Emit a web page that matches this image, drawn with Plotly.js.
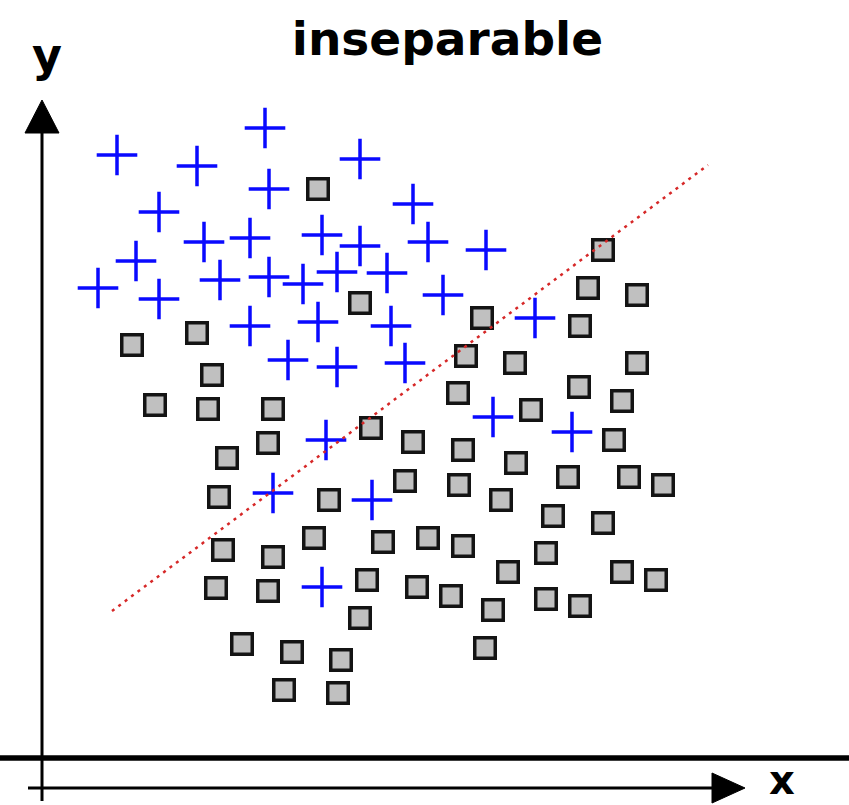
<!DOCTYPE html>
<html>
<head>
<meta charset="utf-8">
<script src="https://cdn.plot.ly/plotly-3.0.1.min.js"></script>
<style>
  html, body { margin: 0; padding: 0; background: #ffffff; }
  #chart { width: 849px; height: 805px; }
</style>
</head>
<body>
<div id="chart"></div>
<script>
// Class "+" samples (blue crosses)
const plusX = [75, 155, 223, 318, 227, 117, 371, 162, 208, 280, 318, 386, 444, 94, 56, 117, 178, 227, 261, 295, 345, 401, 208, 276, 349, 493, 246, 295, 363, 451, 530, 284, 231, 330, 280];
const plusY = [633, 622, 660, 629, 599, 576, 584, 546, 550, 553, 542, 546, 538, 527, 500, 489, 508, 511, 504, 516, 515, 493, 462, 466, 462, 470, 428, 421, 425, 371, 356, 348, 295, 288, 201];

// Class "square" samples (grey boxes)
const squareX = [276, 561, 546, 595, 318, 90, 155, 440, 538, 170, 424, 473, 595, 537, 416, 580, 489, 113, 166, 231,
                 329, 226, 371, 421, 572, 185, 474, 363, 417, 526, 587, 621, 177, 287, 459, 511, 561, 272, 341, 386,
                 421, 504, 181, 231, 466, 580, 614, 174, 226, 325, 375, 409, 451, 504, 538, 318, 200, 250, 299, 443,
                 242, 296];
const squareY = [599, 538, 500, 493, 485, 443, 455, 470, 462, 413, 432, 425, 425, 401, 395, 387, 378, 383, 379, 379,
                 360, 345, 346, 338, 348, 330, 325, 307, 303, 311, 311, 303, 291, 288, 288, 272, 265, 250, 246, 250,
                 242, 235, 238, 231, 216, 216, 208, 200, 197, 208, 201, 192, 178, 189, 182, 170, 144, 136, 128, 140,
                 98, 95];

// Linear decision boundary (endpoints)
const boundaryX = [70, 666];
const boundaryY = [177, 623];

// Axis layout (origin of the drawn x/y arrows is at 0,0)
const xRange = [-42, 807];
const yRange = [-17, 788];

const traces = [
  {
    type: 'scatter', mode: 'markers', name: 'square',
    x: squareX, y: squareY,
    marker: { symbol: 'square', size: 20.5, color: '#c0c0c0',
              line: { color: '#141414', width: 3.5 } },
    hoverinfo: 'x+y'
  },
  {
    type: 'scatter', mode: 'markers', name: 'plus',
    x: plusX, y: plusY,
    marker: { symbol: 'cross-thin', size: 29, color: '#0a0aff',
              line: { color: '#0a0aff', width: 3.5 } },
    hoverinfo: 'x+y'
  },
  {
    type: 'scatter', mode: 'lines', name: 'boundary',
    x: boundaryX, y: boundaryY,
    line: { color: 'rgb(214,40,40)', width: 2.5, dash: '3px,5px' },
    hoverinfo: 'skip'
  }
];

const axisCol = '#000000';
const layout = {
  width: 849, height: 805,
  margin: { l: 0, r: 0, t: 0, b: 0, pad: 0 },
  paper_bgcolor: '#ffffff', plot_bgcolor: '#ffffff',
  showlegend: false,
  xaxis: { range: xRange, visible: false, fixedrange: true },
  yaxis: { range: yRange, visible: false, fixedrange: true },
  title: {
    text: 'inseparable',
    font: { family: 'DejaVu Sans', size: 47, color: '#000000', weight: 'bold' },
    x: 0.527, xref: 'paper', xanchor: 'center',
    y: 0.952, yref: 'container', yanchor: 'middle'
  },
  shapes: [
    // heavy baseline rule
    { type: 'line', xref: 'paper', x0: 0, x1: 1, yref: 'y', y0: 30, y1: 30,
      line: { color: axisCol, width: 5.5 }, layer: 'below' },
    // y axis shaft + arrowhead
    { type: 'line', xref: 'x', yref: 'y', x0: 0, x1: 0, y0: -13, y1: 660,
      line: { color: axisCol, width: 3 }, layer: 'below' },
    { type: 'path', xref: 'x', yref: 'y', path: 'M -17 655 L 17 655 L 0 688 Z',
      fillcolor: axisCol, line: { color: axisCol, width: 1 } },
    // x axis shaft + arrowhead
    { type: 'line', xref: 'x', yref: 'y', x0: -14, x1: 675, y0: 0, y1: 0,
      line: { color: axisCol, width: 3 }, layer: 'below' },
    { type: 'path', xref: 'x', yref: 'y', path: 'M 670 -15 L 670 15 L 703 0 Z',
      fillcolor: axisCol, line: { color: axisCol, width: 1 } }
  ],
  annotations: [
    { text: 'y', xref: 'x', yref: 'y', x: 5, y: 733, showarrow: false,
      xanchor: 'center', yanchor: 'middle',
      font: { family: 'DejaVu Sans', size: 46, color: '#000000', weight: 'bold' } },
    { text: 'x', xref: 'x', yref: 'y', x: 740, y: 8, showarrow: false,
      xanchor: 'center', yanchor: 'middle',
      font: { family: 'DejaVu Sans', size: 40, color: '#000000', weight: 'bold' } }
  ]
};

Plotly.newPlot('chart', traces, layout, { staticPlot: true, displayModeBar: false });
</script>
</body>
</html>
